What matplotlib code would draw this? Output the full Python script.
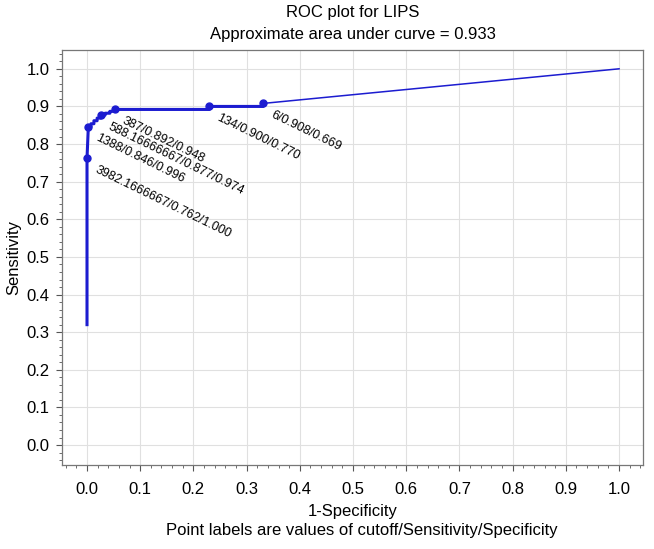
import matplotlib
matplotlib.use("Agg")
import matplotlib.pyplot as plt
from matplotlib.ticker import MultipleLocator

plt.rcParams["font.family"] = ["Liberation Sans", "DejaVu Sans"]

# ROC curve (1-specificity, sensitivity), including the small steps between cutoffs
roc_fpr = [0.000, 0.000, 0.0025, 0.0075, 0.0075, 0.013, 0.013, 0.019, 0.019,
           0.026, 0.026, 0.034, 0.034, 0.043, 0.043, 0.052, 0.052, 0.230, 0.230,
           0.331, 0.331]
roc_tpr = [0.320, 0.762, 0.846, 0.846, 0.854, 0.854, 0.862, 0.862, 0.869,
           0.869, 0.877, 0.877, 0.882, 0.882, 0.887, 0.887, 0.892, 0.892, 0.900,
           0.900, 0.908]
tail_fpr = [0.331, 1.000]
tail_tpr = [0.908, 1.000]

# labelled cutoff points
pt_fpr = [0.000, 0.0025, 0.026, 0.052, 0.230, 0.331]
pt_tpr = [0.762, 0.846, 0.877, 0.892, 0.900, 0.908]
pt_labels = ["3982.1666667/0.762/1.000", "1388/0.846/0.996",
             "588.16666667/0.877/0.974", "387/0.892/0.948",
             "134/0.900/0.770", "6/0.908/0.669"]

blue = "#1c1cd0"
fs = 12

fig = plt.figure(figsize=(6.54, 5.49), dpi=100)
ax = fig.add_axes([62 / 654, 1 - 465 / 549, (643 - 62) / 654, (465 - 50) / 549])

ax.plot(roc_fpr, roc_tpr, color=blue, lw=2.2, zorder=3)
ax.plot(tail_fpr, tail_tpr, color=blue, lw=1.1, zorder=3)
ax.plot(pt_fpr, pt_tpr, "o", color=blue, ms=5, zorder=4)

for x, y, lab in zip(pt_fpr, pt_tpr, pt_labels):
    ax.annotate(lab, (x, y), xytext=(8, -4), textcoords="offset points",
                ha="left", va="top", rotation=-26, rotation_mode="anchor",
                fontsize=9, color="black")

ax.set_xlim(-0.047, 1.045)
ax.set_ylim(-0.053, 1.05)
ax.xaxis.set_major_locator(MultipleLocator(0.1))
ax.xaxis.set_minor_locator(MultipleLocator(0.02))
ax.yaxis.set_major_locator(MultipleLocator(0.1))
ax.yaxis.set_minor_locator(MultipleLocator(0.02))
ax.xaxis.set_major_formatter(lambda v, p: f"{v:.1f}")
ax.yaxis.set_major_formatter(lambda v, p: f"{v:.1f}")
ax.tick_params(which="major", direction="out", length=4, labelsize=fs,
               color="#555555", pad=5)
ax.tick_params(axis="x", which="major", pad=8)
ax.tick_params(which="minor", direction="out", length=2.5, color="#555555")
ax.grid(True, which="major", color="#e0e0e0", lw=0.8, zorder=0)
ax.set_axisbelow(True)
for s in ax.spines.values():
    s.set_color("#777777")
    s.set_linewidth(0.9)

ax.set_xlabel("1-Specificity", fontsize=fs, labelpad=5)
ax.set_ylabel("Sensitivity", fontsize=fs, labelpad=4)

cx = (62 + 643) / 2 / 654
fig.text(cx, 1 - 13 / 549, "ROC plot for LIPS", ha="center", va="center", fontsize=fs)
fig.text(cx, 1 - 35 / 549, "Approximate area under curve = 0.933",
         ha="center", va="center", fontsize=fs)
fig.text(362 / 654, 1 - 531 / 549,
         "Point labels are values of cutoff/Sensitivity/Specificity",
         ha="center", va="center", fontsize=fs)

fig.savefig("out.png", dpi=100)
